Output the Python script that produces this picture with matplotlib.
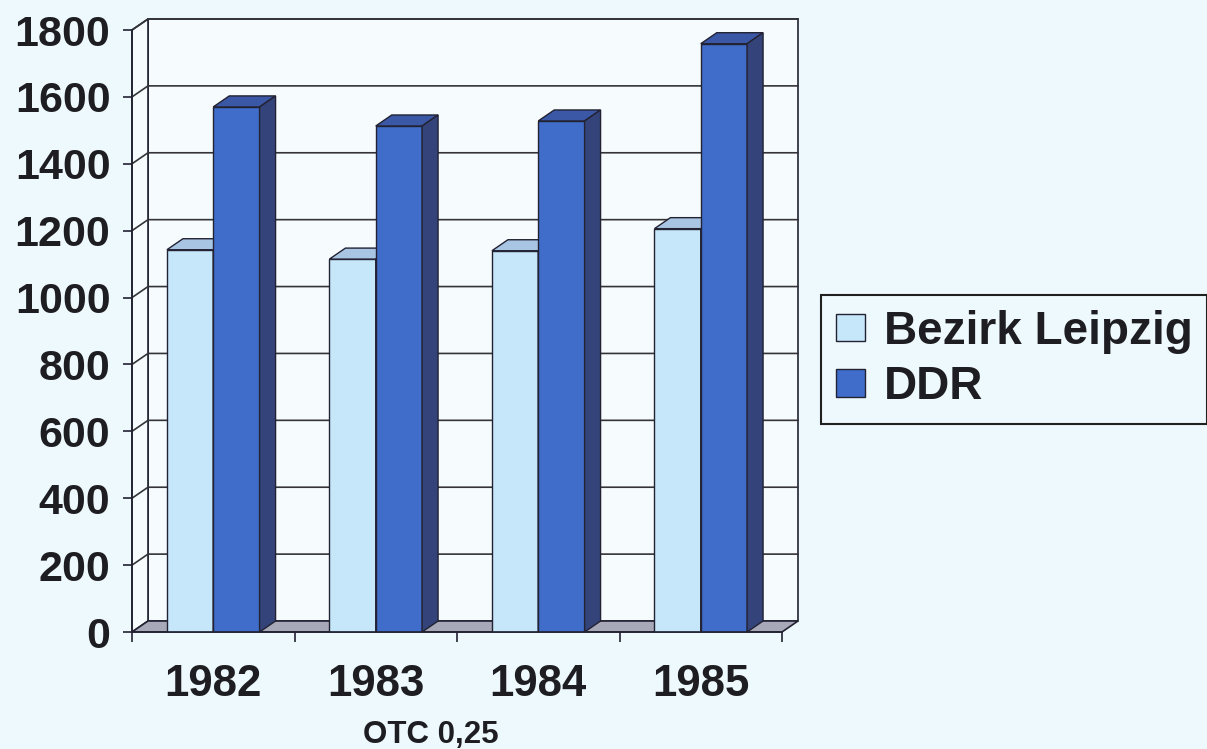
import matplotlib
matplotlib.use('Agg')
from matplotlib import pyplot as plt
from matplotlib.patches import Patch, Polygon
import numpy as np

# values
years = ['1982', '1983', '1984', '1985']
leipzig = [1143, 1115, 1140, 1206]
ddr = [1570, 1513, 1528, 1759]
series_names = ['Bezirk Leipzig', 'DDR']
yticks = list(range(0, 1801, 200))
footnote = 'OTC 0,25'

plt.rcParams['font.family'] = ['Liberation Sans', 'DejaVu Sans']

BG = '#eef9fd'
WALL = '#f6fcfe'
FLOOR = '#a7a8b8'
EDGE = '#222233'
GRID = '#333338'
LEIP = ('#c6e7f9', '#a9c5e4', '#8fa9c8')   # front, top, side
DDRC = ('#3f6dc9', '#3a58a6', '#34447a')

W, H = 1207, 749
fig = plt.figure(figsize=(W / 100, H / 100), dpi=100, facecolor=BG)
ax = fig.add_axes([132 / W, 1 - 632 / H, (782 - 132) / W, (632 - 30) / H])
n = len(years)
ymax = yticks[-1]
ax.set_xlim(0, n)
ax.set_ylim(0, ymax)
ax.patch.set_visible(False)

# depth of the fake 3d box, in data units
DX = 16 / 650 * n
DY = 11 / 602 * ymax


def poly(pts, fc, z, lw=1.0):
    ax.add_patch(Polygon(pts, closed=True, facecolor=fc, edgecolor=EDGE,
                         linewidth=lw, zorder=z, clip_on=False))


# walls and floor
poly([(DX, DY), (n + DX, DY), (n + DX, ymax + DY), (DX, ymax + DY)], WALL, 0, 1.2)
poly([(0, 0), (DX, DY), (DX, ymax + DY), (0, ymax)], WALL, 0, 1.2)
for v in yticks[1:]:
    ax.plot([0, DX, n + DX], [v, v + DY, v + DY], color=GRID, lw=1.2,
            zorder=1, clip_on=False)
poly([(0, 0), (n, 0), (n + DX, DY), (DX, DY)], FLOOR, 1.5, 1.2)

# bars
w = 0.285
x = np.arange(n) + 0.5


def bar3d(x0, v, cols, z):
    ax.bar(x0, v, w, align='edge', color=cols[0], edgecolor=EDGE,
           linewidth=1.0, zorder=z)
    poly([(x0, v), (x0 + w, v), (x0 + w + DX, v + DY), (x0 + DX, v + DY)], cols[1], z)
    poly([(x0 + w, 0), (x0 + w + DX, DY), (x0 + w + DX, v + DY), (x0 + w, v)], cols[2], z)


for i in range(n):
    bar3d(x[i] - w, leipzig[i], LEIP, 3 + 2 * i)
    bar3d(x[i], ddr[i], DDRC, 4 + 2 * i)

# axes lines and ticks
for s in ['top', 'right']:
    ax.spines[s].set_visible(False)
for s in ['left', 'bottom']:
    ax.spines[s].set_color(EDGE)
    ax.spines[s].set_linewidth(1.2)
    ax.spines[s].set_zorder(20)

ax.set_yticks(yticks, labels=[str(v) for v in yticks], fontsize=31,
              fontweight='bold', color='#1e1e22')
ax.tick_params(axis='y', direction='out', length=6.5, width=1.2, pad=9, color=EDGE)
ax.set_xticks(x, labels=years, fontsize=31.5, fontweight='bold', color='#1e1e22')
ax.set_xticks(np.arange(n + 1), minor=True)
ax.tick_params(axis='x', which='major', length=0, pad=23)
ax.tick_params(axis='x', which='minor', direction='out', length=7, width=1.2, color=EDGE)

fig.text(431 / W, 1 - 743 / H, footnote, ha='center', va='baseline',
         fontsize=22.5, fontweight='bold', color='#1e1e22')

handles = [Patch(facecolor=LEIP[0], edgecolor=EDGE), Patch(facecolor=DDRC[0], edgecolor=EDGE)]
leg = fig.legend(handles, series_names, loc='upper left',
                 bbox_to_anchor=(821 / W, 1 - 295 / H), prop={'size': 33, 'weight': 'bold'},
                 frameon=True, fancybox=False, edgecolor='#202020', facecolor=BG,
                 framealpha=1, handlelength=0.65, handleheight=0.55, handletextpad=0.4,
                 labelspacing=0.25, borderpad=0.32, borderaxespad=0)
leg.get_frame().set_linewidth(1.5)
for t in leg.get_texts():
    t.set_color('#1e1e22')

fig.savefig('out.png', dpi=100, facecolor=BG)
